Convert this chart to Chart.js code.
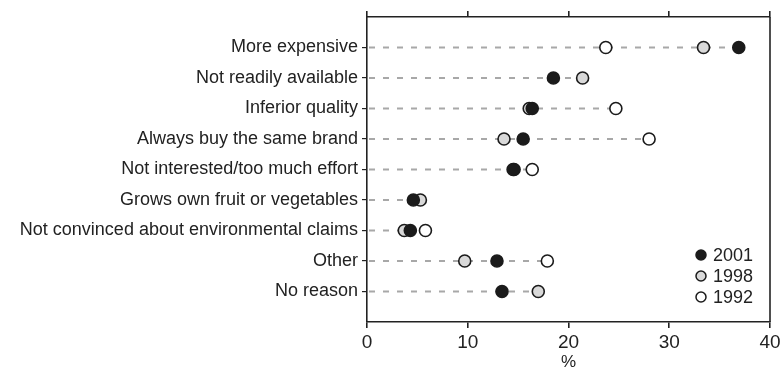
<!DOCTYPE html>
<html>
<head>
<meta charset="utf-8">
<script src="https://cdn.jsdelivr.net/npm/chart.js@4.4.0/dist/chart.umd.min.js"></script>
<style>
  html, body { margin: 0; padding: 0; background: #fff; }
  #wrap { position: relative; width: 781px; height: 373px; }
</style>
</head>
<body>
<div id="wrap"><canvas id="grafico" width="781" height="373"></canvas></div>
<script>
const categorias = [
    'More expensive',
    'Not readily available',
    'Inferior quality',
    'Always buy the same brand',
    'Not interested/too much effort',
    'Grows own fruit or vegetables',
    'Not convinced about environmental claims',
    'Other',
    'No reason'
];
const anos = ['2001', '1998', '1992'];
const valores2001 = [36.9, 18.5, 16.4, 15.5, 14.6, 4.6, 4.3, 12.9, 13.4];
const valores1998 = [33.4, 21.4, 16.1, 13.6, 14.5, 5.3, 3.7, 9.7, 17.0];
const valores1992 = [23.7, null, 24.7, 28.0, 16.4, null, 5.8, 17.9, null];
const xTicks = [0, 10, 20, 30, 40];

const cores = { '2001': '#1b1b1b', '1998': '#d9d9d9', '1992': '#ffffff' };
const fonte = "'Liberation Sans', Arial, sans-serif";

function pontos(valores) {
    let lista = [];
    valores.forEach((v, i) => {
        if (v !== null) lista.push({ x: v, y: i });
    });
    return lista;
}

function serie(ano, valores, ordem) {
    return {
        label: ano,
        data: pontos(valores),
        backgroundColor: cores[ano],
        borderColor: '#1b1b1b',
        borderWidth: 1.6,
        pointRadius: 6,
        pointHoverRadius: 6,
        order: ordem
    };
}

// linhas tracejadas de 0 ate o maior valor de cada categoria
const linhasTracejadas = {
    id: 'linhasTracejadas',
    beforeDatasetsDraw(chart) {
        const ctx = chart.ctx;
        const x = chart.scales.x;
        const y = chart.scales.y;
        const area = chart.chartArea;
        ctx.save();
        ctx.strokeStyle = '#a8a8a8';
        ctx.lineWidth = 2;
        ctx.setLineDash([6, 8]);
        categorias.forEach((c, i) => {
            const vals = [valores2001[i], valores1998[i], valores1992[i]].filter(v => v !== null);
            const maximo = Math.max(...vals);
            const py = y.getPixelForValue(i);
            ctx.beginPath();
            ctx.moveTo(x.getPixelForValue(0) + 2, py);
            ctx.lineTo(x.getPixelForValue(maximo), py);
            ctx.stroke();
        });
        ctx.setLineDash([]);
        // borda da direita
        ctx.strokeStyle = '#222';
        ctx.lineWidth = 1.6;
        ctx.beginPath();
        ctx.moveTo(area.right, area.top);
        ctx.lineTo(area.right, area.bottom);
        ctx.stroke();
        ctx.restore();
    }
};

// legenda dentro da area do grafico, canto inferior direito
const legendaInterna = {
    id: 'legendaInterna',
    afterDatasetsDraw(chart) {
        const ctx = chart.ctx;
        const area = chart.chartArea;
        ctx.save();
        ctx.font = '18px ' + fonte;
        ctx.textBaseline = 'middle';
        anos.forEach((ano, i) => {
            const cy = area.bottom - 67 + i * 21;
            const cx = area.right - 69;
            ctx.beginPath();
            ctx.arc(cx, cy, 5, 0, Math.PI * 2);
            ctx.fillStyle = cores[ano];
            ctx.fill();
            ctx.lineWidth = 1.5;
            ctx.strokeStyle = '#1b1b1b';
            ctx.stroke();
            ctx.fillStyle = '#222';
            ctx.fillText(ano, cx + 12, cy + 1);
        });
        ctx.restore();
    }
};

const eixoCor = '#222';

new Chart(document.getElementById('grafico').getContext('2d'), {
    type: 'scatter',
    data: {
        datasets: [
            serie('2001', valores2001, 1),
            serie('1998', valores1998, 2),
            serie('1992', valores1992, 3)
        ]
    },
    options: {
        responsive: false,
        animation: false,
        events: [],
        layout: { padding: { top: 11, right: 11, bottom: 0, left: 0 } },
        plugins: {
            legend: { display: false },
            tooltip: { enabled: false }
        },
        scales: {
            x: {
                type: 'linear',
                position: 'bottom',
                min: 0,
                max: 40,
                afterBuildTicks: (s) => { s.ticks = xTicks.map(v => ({ value: v })); },
                afterFit: (s) => { s.height = 51; s.paddingRight = 0; s.paddingLeft = 0; },
                border: { color: eixoCor, width: 1.6 },
                grid: { drawOnChartArea: false, color: eixoCor, lineWidth: 1.6, tickLength: 6 },
                ticks: { color: '#222', font: { family: fonte, size: 19 }, padding: 3, maxRotation: 0 },
                title: { display: true, text: '%', color: '#222', font: { family: fonte, size: 17 }, padding: { top: 0, bottom: 0 } }
            },
            x2: {
                type: 'linear',
                position: 'top',
                min: 0,
                max: 40,
                afterBuildTicks: (s) => { s.ticks = xTicks.map(v => ({ value: v })); },
                border: { color: eixoCor, width: 1.6 },
                grid: { drawOnChartArea: false, color: eixoCor, lineWidth: 1.6, tickLength: 6 },
                ticks: { display: false }
            },
            y: {
                type: 'linear',
                position: 'left',
                reverse: true,
                min: -1,
                max: 9,
                afterBuildTicks: (s) => { s.ticks = categorias.map((c, i) => ({ value: i })); },
                afterFit: (s) => { s.width = 367; },
                border: { color: eixoCor, width: 1.6 },
                grid: { drawOnChartArea: false, color: eixoCor, lineWidth: 1.2, tickLength: 5 },
                ticks: {
                    color: '#222',
                    font: { family: fonte, size: 18 },
                    padding: 4,
                    callback: (v) => categorias[v] !== undefined ? categorias[v] : ''
                }
            }
        }
    },
    plugins: [linhasTracejadas, legendaInterna]
});
</script>
</body>
</html>
